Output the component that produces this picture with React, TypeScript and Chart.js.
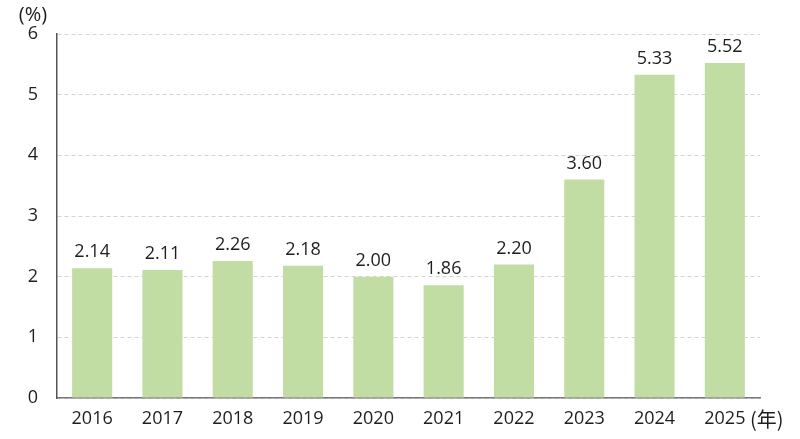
import React, { useEffect, useRef } from "react";
import { Chart, registerables } from "chart.js";

Chart.register(...registerables);

const years = ["2016", "2017", "2018", "2019", "2020", "2021", "2022", "2023", "2024", "2025"];
const rates = [2.14, 2.11, 2.26, 2.18, 2.0, 1.86, 2.2, 3.6, 5.33, 5.52];
const yTicks = [0, 1, 2, 3, 4, 5, 6];
const yUnit = "(%)";
const xUnit = "(年)";

const FONT = "'Open Sans', 'Noto Sans CJK JP', sans-serif";
const TEXT = "#1e1e1e";

const labelPlugin = {
  id: "labels",
  afterDatasetsDraw(chart: any) {
    const ctx = chart.ctx;
    const meta = chart.getDatasetMeta(0);
    ctx.save();
    ctx.font = `18px ${FONT}`;
    ctx.fillStyle = TEXT;
    ctx.textAlign = "center";
    ctx.textBaseline = "alphabetic";
    meta.data.forEach((bar: any, i: number) => {
      ctx.fillText(rates[i].toFixed(2), bar.x, bar.y - 11);
    });
    // units
    ctx.textBaseline = "middle";
    ctx.font = `20px ${FONT}`;
    ctx.fillText(yUnit, 33, 15);
    ctx.textAlign = "left";
    const xs = chart.scales.x;
    ctx.font = `20px 'Noto Sans CJK JP', sans-serif`;
    ctx.fillText(xUnit, 750, xs.top + 21);
    ctx.restore();
  },
};

export default function App() {
  const ref = useRef<HTMLCanvasElement | null>(null);
  useEffect(() => {
    if (!ref.current) return;
    const chart = new Chart(ref.current, {
      type: "bar",
      data: {
        labels: years,
        datasets: [
          {
            data: rates,
            backgroundColor: "#c2dda4",
            barPercentage: 0.57,
            categoryPercentage: 1,
          },
        ],
      },
      options: {
        animation: false,
        responsive: false,
        devicePixelRatio: 1,
        layout: { padding: { left: 0, right: 40, top: 34, bottom: 0 } },
        plugins: { legend: { display: false }, tooltip: { enabled: false } },
        scales: {
          x: {
            grid: { display: false },
            border: { display: true, color: "#777", width: 1.5 },
            ticks: { color: TEXT, font: { family: FONT, size: 18 }, padding: 2, maxRotation: 0 },
            afterFit: (s: any) => {
              s.height = 41;
            },
          },
          y: {
            min: 0,
            max: 6,
            afterBuildTicks: (s: any) => {
              s.ticks = yTicks.map((v) => ({ value: v }));
            },
            grid: { color: "#d4d4d4", drawTicks: false, lineWidth: 1 },
            border: { display: true, color: "#555", width: 1.5, dash: [4, 3] },
            ticks: { color: TEXT, font: { family: FONT, size: 18 }, padding: 19 },
            afterFit: (s: any) => {
              s.width = 57;
            },
          },
        },
      },
      plugins: [labelPlugin],
    });
    return () => chart.destroy();
  }, []);
  return (
    <div style={{ position: "fixed", left: 0, top: 0, width: 800, height: 439, background: "#fff" }}>
      <canvas ref={ref} width={800} height={439} style={{ width: 800, height: 439 }} />
    </div>
  );
}
